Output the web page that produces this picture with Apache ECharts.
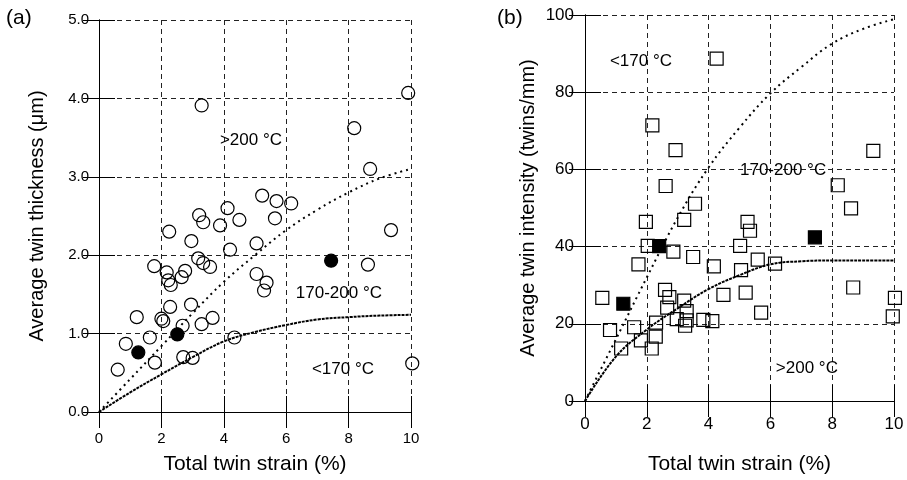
<!DOCTYPE html>
<html>
<head>
<meta charset="utf-8">
<script src="https://cdn.jsdelivr.net/npm/echarts@6/dist/echarts.min.js"></script>
<style>html,body{margin:0;padding:0;background:#fff}#c{width:907px;height:480px}</style>
</head>
<body>
<div id="c"></div>
<script>
// ---- Panel (a): Average twin thickness (µm) vs total twin strain (%) ----
const thicknessOpen = [
  [3.29,3.91],[9.91,4.07],[8.18,3.62],[8.69,3.10],[5.23,2.76],[5.69,2.69],[6.16,2.66],
  [3.21,2.51],[3.34,2.42],[4.12,2.60],[4.50,2.45],[3.88,2.38],[5.64,2.47],[2.25,2.30],
  [9.36,2.32],[2.96,2.18],[5.05,2.15],[4.20,2.07],[3.18,1.96],[3.34,1.90],[3.56,1.85],
  [1.77,1.86],[2.17,1.78],[2.76,1.80],[2.65,1.72],[2.22,1.68],[2.30,1.62],[5.05,1.76],
  [5.37,1.65],[5.29,1.55],[8.62,1.88],[2.28,1.34],[2.95,1.37],[1.21,1.21],[2.06,1.16],
  [2.00,1.19],[3.64,1.20],[3.29,1.12],[2.68,1.10],[1.63,0.95],[0.86,0.87],[4.34,0.95],
  [1.79,0.63],[2.70,0.70],[3.00,0.69],[0.60,0.54],[10.04,0.62]
];
const thicknessFilled = [[1.26,0.76],[2.51,0.99],[7.44,1.93]];
const thicknessCurveUpper = [[0,0],[1,0.42],[2,0.84],[3,1.26],[4,1.66],[5,2.0],[6,2.32],[7,2.58],[8,2.8],[9,2.98],[10,3.1]];
const thicknessCurveLower = [[0,0],[1,0.25],[2,0.48],[3,0.7],[4,0.9],[5,1.02],[6,1.11],[7,1.18],[8,1.21],[9,1.23],[10,1.24]];
const thicknessRegionLabels = [['>200 °C',4.87,3.46],['170-200 °C',7.69,1.52],['<170 °C',7.82,0.55]];

// ---- Panel (b): Average twin intensity (twins/mm) vs total twin strain (%) ----
const intensityOpen = [
  [4.26,88.7],[2.18,71.4],[2.93,65.0],[9.33,64.8],[2.61,55.7],[8.18,55.9],[3.56,51.1],
  [8.61,49.9],[1.97,46.4],[3.21,46.9],[5.26,46.4],[5.34,44.1],[2.03,40.2],[2.86,38.7],
  [5.02,40.2],[3.50,37.3],[1.73,35.4],[4.17,34.9],[5.05,33.9],[5.59,36.6],[6.15,35.6],
  [0.56,26.7],[2.59,28.8],[2.73,26.9],[2.66,24.2],[3.21,26.0],[3.29,23.3],[4.48,27.5],
  [5.20,28.1],[8.68,29.4],[10.03,26.7],[5.70,22.9],[2.97,21.2],[3.29,20.9],[3.83,21.0],
  [4.12,20.7],[3.24,19.5],[9.96,21.9],[0.81,18.4],[1.59,19.1],[2.30,20.3],[1.81,15.7],
  [2.29,16.7],[2.16,13.6],[1.17,13.6]
];
const intensityFilled = [[1.24,25.2],[2.40,40.1],[7.44,42.4]];
const intensityCurveUpper = [[0,0],[1,16],[2,32],[3,47.5],[4,60.5],[5,70.8],[6,79.7],[7,86.5],[8,92.6],[9,96.4],[10,98.9]];
const intensityCurveLower = [[0,0],[1,11.5],[2,18.5],[3,24],[4,29],[5,32.6],[6,35.4],[7,36.2],[8,36.4],[9,36.4],[10,36.4]];
const intensityRegionLabels = [['<170 °C',1.81,88.0],['170-200 °C',6.41,59.8],['>200 °C',7.18,8.5]];

const FONT = 'Liberation Sans, Arial, sans-serif';
const chart = echarts.init(document.getElementById('c'), null, {renderer:'canvas'});

function xAxes(gi, labelSize, labelMargin, nameGap){
  return [
    {gridIndex:gi, type:'value', min:0, max:10, interval:2, position:'bottom',
     axisLine:{show:true,lineStyle:{color:'#000',width:1}},
     axisTick:{show:true,inside:true,length:16,lineStyle:{color:'#000'}},
     axisLabel:{color:'#000',fontSize:labelSize,fontFamily:FONT,margin:labelMargin},
     splitLine:{show:true,lineStyle:{color:'#222',type:[5,4],width:1}},
     name:'Total twin strain (%)',nameLocation:'middle',nameGap:nameGap,
     nameTextStyle:{color:'#000',fontSize:21,fontFamily:FONT}},
    {gridIndex:gi, type:'value', min:0, max:10, interval:2, position:'top',
     axisLine:{show:true,lineStyle:{color:'#000',width:1}},
     axisTick:{show:true,inside:true,length:16,lineStyle:{color:'#000'}},
     axisLabel:{show:false}, splitLine:{show:false}}
  ];
}
function yAxes(gi, max, interval, fmt, labelSize, labelMargin, name, nameGap){
  return [
    {gridIndex:gi, type:'value', min:0, max:max, interval:interval, position:'left',
     axisLine:{show:true,lineStyle:{color:'#000',width:1}},
     axisTick:{show:true,inside:true,length:16,lineStyle:{color:'#000'}},
     axisLabel:{color:'#000',fontSize:labelSize,fontFamily:FONT,margin:labelMargin,formatter:fmt},
     splitLine:{show:true,lineStyle:{color:'#222',type:[5,4],width:1}},
     name:name,nameLocation:'middle',nameGap:nameGap,
     nameTextStyle:{color:'#000',fontSize:20,fontFamily:FONT}},
    {gridIndex:gi, type:'value', min:0, max:max, interval:interval, position:'right',
     axisLine:{show:true,lineStyle:{color:'#000',width:1}},
     axisTick:{show:true,inside:true,length:16,lineStyle:{color:'#000'}},
     axisLabel:{show:false}, splitLine:{show:false}}
  ];
}

function scatter(xi, yi, data, symbol, filled){
  return {type:'scatter', xAxisIndex:xi, yAxisIndex:yi, data:data, symbol:symbol, symbolSize:13, clip:false,
    itemStyle:{color: filled ? '#000' : 'rgba(0,0,0,0)', borderColor:'#000', borderWidth:1.2, opacity:1},
    z: filled ? 4 : 3};
}
function curve(xi, yi, data, dash, width){
  return {type:'line', xAxisIndex:xi, yAxisIndex:yi, data:data, smooth:0.4, showSymbol:false,
    lineStyle:{color:'#000', width:width, type:dash}, z:2};
}
function labels(xi, yi, arr){
  return {type:'scatter', xAxisIndex:xi, yAxisIndex:yi, symbolSize:1, silent:true, z:5, clip:false,
    itemStyle:{opacity:0},
    data: arr.map(d => ({value:[d[1],d[2]], name:d[0]})),
    label:{show:true, position:'inside', formatter:p => p.name, color:'#000', opacity:1,
      textBorderWidth:0, fontSize:17, fontFamily:FONT}};
}

chart.setOption({
  animation:false,
  backgroundColor:'#fff',
  grid:[
    {left:99, top:20, width:312, height:400},
    {left:585, top:15, width:309, height:393}
  ],
  xAxis:[...xAxes(0, 15, 19, 42), ...xAxes(1, 17, 15, 53)],
  yAxis:[...yAxes(0, 5, 1, v => v.toFixed(1), 15, 10, 'Average twin thickness (μm)', 52),
         ...yAxes(1, 100, 20, v => String(v), 17, 11, 'Average twin intensity (twins/mm)', 47)],
  graphic:[
    {type:'text', left:6, top:8, style:{text:'(a)', fontSize:21, fontFamily:FONT, fill:'#000'}},
    {type:'text', left:497, top:8, style:{text:'(b)', fontSize:21, fontFamily:FONT, fill:'#000'}}
  ],
  series:[
    curve(0,0,thicknessCurveUpper,[2,4],2),
    curve(0,0,thicknessCurveLower,[3,1],2),
    scatter(0,0,thicknessOpen,'circle',false),
    scatter(0,0,thicknessFilled,'circle',true),
    labels(0,0,thicknessRegionLabels),
    curve(2,2,intensityCurveUpper,[2,4],2),
    curve(2,2,intensityCurveLower,[3,1],2),
    scatter(2,2,intensityOpen,'rect',false),
    scatter(2,2,intensityFilled,'rect',true),
    labels(2,2,intensityRegionLabels)
  ]
});
</script>
</body>
</html>
